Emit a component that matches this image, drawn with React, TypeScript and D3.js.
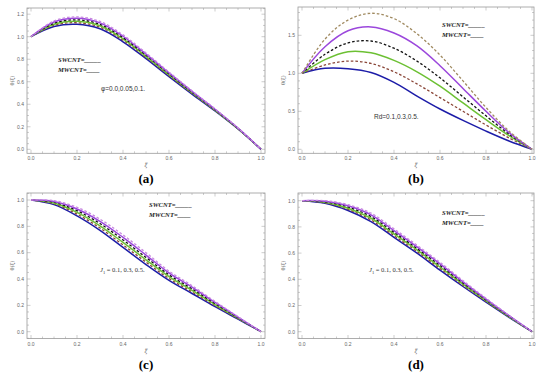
import * as d3 from 'd3';

// xi grid used for every curve
const xi = [0, 0.1, 0.2, 0.3, 0.4, 0.5, 0.6, 0.7, 0.8, 0.9, 1.0];

// (a) phi = 0.0, 0.05, 0.1
const aSw1 = [1.0, 1.09, 1.11, 1.07, 0.955, 0.805, 0.645, 0.49, 0.34, 0.18, 0];
const aMw1 = [1.0, 1.1, 1.124, 1.084, 0.968, 0.816, 0.654, 0.496, 0.344, 0.182, 0];
const aSw2 = [1.0, 1.11, 1.137, 1.097, 0.98, 0.826, 0.662, 0.502, 0.348, 0.184, 0];
const aMw2 = [1.0, 1.12, 1.15, 1.11, 0.992, 0.836, 0.67, 0.508, 0.352, 0.186, 0];
const aSw3 = [1.0, 1.13, 1.163, 1.123, 1.004, 0.846, 0.678, 0.514, 0.356, 0.188, 0];
const aMw3 = [1.0, 1.14, 1.176, 1.136, 1.016, 0.856, 0.686, 0.52, 0.36, 0.19, 0];

// (b) Rd = 0.1, 0.3, 0.5
const bSw1 = [1.0, 1.065, 1.06, 1.01, 0.88, 0.7, 0.53, 0.38, 0.24, 0.11, 0];
const bMw1 = [1.0, 1.11, 1.16, 1.13, 1.02, 0.86, 0.68, 0.5, 0.32, 0.15, 0];
const bSw2 = [1.0, 1.18, 1.285, 1.27, 1.17, 1.02, 0.83, 0.61, 0.39, 0.18, 0];
const bMw2 = [1.0, 1.25, 1.4, 1.425, 1.33, 1.16, 0.94, 0.69, 0.44, 0.2, 0];
const bSw3 = [1.0, 1.35, 1.56, 1.61, 1.53, 1.36, 1.1, 0.8, 0.5, 0.22, 0];
const bMw3 = [1.0, 1.45, 1.7, 1.79, 1.72, 1.52, 1.24, 0.9, 0.55, 0.24, 0];

// (c) J1 = 0.1, 0.3, 0.5
const cSw1 = [1.0, 0.965, 0.88, 0.77, 0.64, 0.51, 0.39, 0.29, 0.19, 0.095, 0];
const cMw1 = [1.0, 0.971, 0.893, 0.787, 0.659, 0.528, 0.404, 0.302, 0.198, 0.099, 0];
const cSw2 = [1.0, 0.977, 0.906, 0.804, 0.678, 0.546, 0.418, 0.314, 0.206, 0.103, 0];
const cMw2 = [1.0, 0.983, 0.919, 0.821, 0.697, 0.564, 0.432, 0.326, 0.214, 0.107, 0];
const cSw3 = [1.0, 0.989, 0.932, 0.838, 0.716, 0.582, 0.446, 0.338, 0.222, 0.111, 0];
const cMw3 = [1.0, 0.995, 0.945, 0.855, 0.735, 0.6, 0.46, 0.35, 0.23, 0.115, 0];

// (d) J1 = 0.1, 0.3, 0.5
const dSw1 = [1.0, 0.98, 0.925, 0.84, 0.72, 0.6, 0.47, 0.345, 0.225, 0.11, 0];
const dMw1 = [1.0, 0.984, 0.934, 0.853, 0.733, 0.612, 0.482, 0.354, 0.231, 0.113, 0];
const dSw2 = [1.0, 0.988, 0.943, 0.866, 0.746, 0.624, 0.494, 0.363, 0.237, 0.116, 0];
const dMw2 = [1.0, 0.992, 0.952, 0.879, 0.759, 0.636, 0.506, 0.372, 0.243, 0.119, 0];
const dSw3 = [1.0, 0.996, 0.961, 0.892, 0.772, 0.648, 0.518, 0.381, 0.249, 0.122, 0];
const dMw3 = [1.0, 1.0, 0.97, 0.905, 0.785, 0.66, 0.53, 0.39, 0.255, 0.125, 0];

const xTicks = [0, 0.2, 0.4, 0.6, 0.8, 1.0];
const yTicksA = [0, 0.2, 0.4, 0.6, 0.8, 1.0, 1.2];
const yTicksB = [0, 0.5, 1.0, 1.5];
const yTicksC = [0, 0.2, 0.4, 0.6, 0.8, 1.0];

const lineColors = ['#1c1ca8', '#8a4638', '#6cc033', '#111111', '#9b47dc', '#c888e0'];
const lineColorsB = ['#1c1ca8', '#8a4638', '#6cc033', '#111111', '#9b47dc', '#a08a60'];

type PanelProps = {
  label: string;
  fx0: number; fx1: number; fy0: number; fy1: number;
  px0: number; px1: number;
  zeroY: number; oneY: number;
  yTicks: number[]; yMinor: number;
  series: number[][];
  colors: string[];
  note: React.ReactNode;
  noteX: number; noteY: number;
  legX: number; legY: number;
};

function Panel(p: PanelProps) {
  const x = d3.scaleLinear().domain([0, 1]).range([p.px0, p.px1]);
  const y = d3.scaleLinear().domain([0, 1]).range([p.zeroY, p.oneY]);
  const line = d3.line<number>()
    .x((_, i) => x(xi[i]))
    .y((d) => y(d))
    .curve(d3.curveCatmullRom);

  const yLo = y.invert(p.fy1);
  const yHi = y.invert(p.fy0);
  const minorX = d3.range(0, 1.0001, 0.05);
  const minorY = d3.range(Math.ceil(yLo / p.yMinor) * p.yMinor, yHi, p.yMinor);
  const grey = '#9a9a9a';

  return (
    <g>
      {/* curves */}
      {p.series.map((s, i) => (
        <path key={i} d={line(s) || ''} fill="none" stroke={p.colors[i]}
          strokeWidth={i % 2 === 0 ? 1.5 : 1.3}
          strokeDasharray={i % 2 === 0 ? undefined : '2.6,2'} />
      ))}
      {/* frame */}
      <rect x={p.fx0} y={p.fy0} width={p.fx1 - p.fx0} height={p.fy1 - p.fy0}
        fill="none" stroke={grey} strokeWidth={0.8} />
      {minorX.map((t, i) => {
        const major = xTicks.some((m) => Math.abs(m - t) < 1e-6);
        const len = major ? 3.5 : 2;
        return (
          <g key={'x' + i} stroke={grey} strokeWidth={0.5}>
            <line x1={x(t)} x2={x(t)} y1={p.fy1} y2={p.fy1 - len} />
            <line x1={x(t)} x2={x(t)} y1={p.fy0} y2={p.fy0 + len} />
          </g>
        );
      })}
      {minorY.map((t, i) => {
        const major = p.yTicks.some((m) => Math.abs(m - t) < 1e-6);
        const len = major ? 3.5 : 2;
        return (
          <g key={'y' + i} stroke={grey} strokeWidth={0.5}>
            <line x1={p.fx0} x2={p.fx0 + len} y1={y(t)} y2={y(t)} />
            <line x1={p.fx1} x2={p.fx1 - len} y1={y(t)} y2={y(t)} />
          </g>
        );
      })}
      {xTicks.map((t) => (
        <text key={'xl' + t} x={x(t)} y={p.fy1 + 7} fontSize={5} fill="#666"
          textAnchor="middle" fontFamily="Liberation Sans, Arial">{t.toFixed(1)}</text>
      ))}
      {p.yTicks.map((t) => (
        <text key={'yl' + t} x={p.fx0 - 3} y={y(t) + 1.8} fontSize={5} fill="#666"
          textAnchor="end" fontFamily="Liberation Sans, Arial">{t.toFixed(1)}</text>
      ))}
      {/* axis labels */}
      <text x={(p.fx0 + p.fx1) / 2} y={p.fy1 + 14} fontSize={5.5} fill="#666"
        textAnchor="middle" fontFamily="DejaVu Serif" fontStyle="italic">ξ</text>
      <text transform={`translate(${p.fx0 - 13},${(p.fy0 + p.fy1) / 2}) rotate(-90)`}
        fontSize={5} fill="#666" textAnchor="middle" fontFamily="DejaVu Serif">θ(ξ)</text>
      {/* legend */}
      <g fontFamily="Liberation Serif, Times New Roman" fontStyle="italic" fontWeight="bold"
        fontSize={6.6} fill="#222">
        <text x={p.legX} y={p.legY}>SWCNT=_____</text>
        <text x={p.legX} y={p.legY + 9.5}>MWCNT=____</text>
      </g>
      <text x={p.noteX} y={p.noteY} fontSize={6.5} fill="#333"
        fontFamily="Liberation Sans, Arial">{p.note}</text>
      <text x={(p.fx0 + p.fx1) / 2} y={p.fy1 + 30} fontSize={13} fontWeight="bold"
        textAnchor="middle" fontFamily="Liberation Serif, Times New Roman" fill="#000">{p.label}</text>
    </g>
  );
}

export default function App() {
  const jNote = (
    <tspan fontFamily="Liberation Serif, Times New Roman">
      <tspan fontStyle="italic">J</tspan>
      <tspan fontSize={4.5} dy={1.5}>1</tspan>
      <tspan dy={-1.5}> = 0.1, 0.3, 0.5.</tspan>
    </tspan>
  );
  return (
    <svg width={550} height={379} style={{ position: 'absolute', left: 0, top: 0, background: '#fff' }}>
      <rect width={550} height={379} fill="#fff" />
      <Panel label="(a)" fx0={27} fx1={265} fy0={8} fy1={153.3} px0={31} px1={261}
        zeroY={149.3} oneY={36.7} yTicks={yTicksA} yMinor={0.05}
        series={[aSw1, aMw1, aSw2, aMw2, aSw3, aMw3]} colors={lineColors}
        note="φ=0.0,0.05,0.1." noteX={101} noteY={91} legX={58} legY={62} />
      <Panel label="(b)" fx0={298} fx1={534} fy0={7} fy1={153.3} px0={302} px1={532}
        zeroY={149.3} oneY={73.3} yTicks={yTicksB} yMinor={0.1}
        series={[bSw1, bMw1, bSw2, bMw2, bSw3, bMw3]} colors={lineColorsB}
        note="Rd=0.1,0.3,0.5." noteX={374} noteY={119} legX={442} legY={27} />
      <Panel label="(c)" fx0={27} fx1={265} fy0={193} fy1={338.5} px0={31} px1={261}
        zeroY={331.7} oneY={200} yTicks={yTicksC} yMinor={0.05}
        series={[cSw1, cMw1, cSw2, cMw2, cSw3, cMw3]} colors={lineColors}
        note={jNote} noteX={100} noteY={272} legX={149} legY={207} />
      <Panel label="(d)" fx0={298} fx1={534} fy0={193} fy1={338.5} px0={302} px1={532}
        zeroY={331.7} oneY={200.7} yTicks={yTicksC} yMinor={0.05}
        series={[dSw1, dMw1, dSw2, dMw2, dSw3, dMw3]} colors={lineColors}
        note={jNote} noteX={369} noteY={272} legX={442} legY={215} />
    </svg>
  );
}
